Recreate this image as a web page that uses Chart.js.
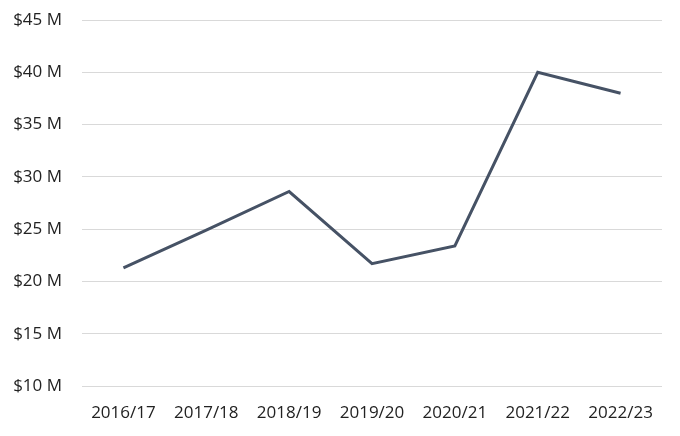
<!DOCTYPE html>
<html>
<head>
<meta charset="utf-8">
<script src="https://cdn.jsdelivr.net/npm/chart.js@4"></script>
<style>
html,body{margin:0;padding:0;background:#fff;}
#wrap{width:680px;height:436px;position:relative;}
</style>
</head>
<body>
<div id="wrap"><canvas id="c" width="680" height="436"></canvas></div>
<script>
const categories = ["2016/17","2017/18","2018/19","2019/20","2020/21","2021/22","2022/23"];
const fundingMillions = [21.3, 24.9, 28.6, 21.7, 23.4, 40.0, 38.0];
const yTickMin = 10, yTickMax = 45, yTickStep = 5;

new Chart(document.getElementById('c'), {
  type: 'line',
  data: {
    labels: categories,
    datasets: [{
      data: fundingMillions,
      borderColor: '#465265',
      borderWidth: 3,
      pointRadius: 0,
      tension: 0,
      fill: false,
      borderJoinStyle: 'miter'
    }]
  },
  options: {
    responsive: false,
    animation: false,
    layout: { padding: { top: 20, right: 18, bottom: 12, left: 0 } },
    plugins: { legend: { display: false }, tooltip: { enabled: false } },
    scales: {
      x: {
        offset: true,
        grid: { display: false, drawTicks: false },
        border: { display: false },
        afterFit: s => { s.height = 38; },
        ticks: { color: '#222', font: { family: 'Open Sans', size: 17 }, padding: 17, maxRotation: 0 }
      },
      y: {
        min: yTickMin, max: yTickMax,
        grid: { color: '#d9d9d9', lineWidth: 1, drawTicks: false },
        border: { display: false },
        afterFit: s => { s.width = 82; s.paddingTop = 0; s.paddingBottom = 0; },
        ticks: {
          stepSize: yTickStep,
          color: '#222',
          font: { family: 'Open Sans', size: 17 },
          padding: 20,
          callback: v => '$' + v + ' M'
        }
      }
    }
  }
});
</script>
</body>
</html>
